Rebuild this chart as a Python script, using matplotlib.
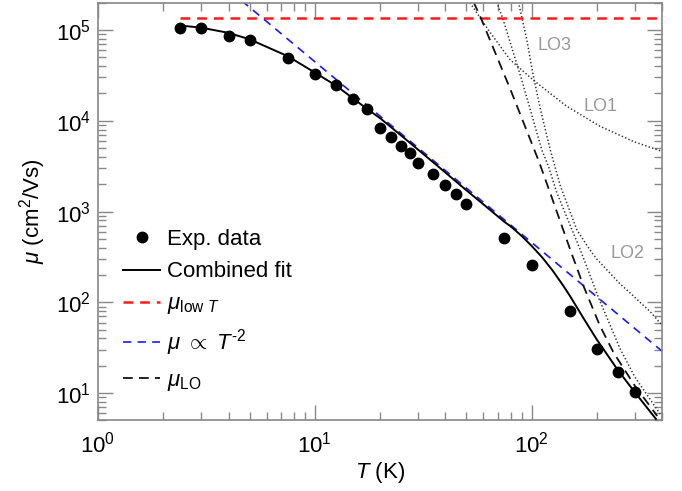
import matplotlib
matplotlib.use('Agg')
import matplotlib.pyplot as plt
from matplotlib.ticker import LogLocator, NullFormatter

plt.rcParams['font.family'] = ['Liberation Sans', 'DejaVu Sans']
plt.rcParams['mathtext.fontset'] = 'custom'
plt.rcParams['mathtext.rm'] = 'Liberation Sans'
plt.rcParams['mathtext.it'] = 'Liberation Sans:italic'
plt.rcParams['mathtext.bf'] = 'Liberation Sans:bold'
plt.rcParams['lines.scale_dashes'] = False

# experimental points
exp_T = [2.4, 3, 4, 5, 7.5, 10, 12.5, 15, 17.5, 20, 22.5, 25, 27.5, 30, 35, 40, 45, 50,
         75, 100, 150, 200, 250, 300]
exp_mu = [1.04e5, 1.04e5, 8.6e4, 7.7e4, 4.95e4, 3.3e4, 2.45e4, 1.75e4, 1.36e4, 8.4e3,
          6.6e3, 5.25e3, 4.4e3, 3.45e3, 2.6e3, 1.95e3, 1.58e3, 1.2e3,
          515, 258, 80, 31, 17.2, 10.2]

# combined fit
fit_T = [2.4, 3, 4, 5, 7.5, 10, 12.5, 15, 17.5, 20, 25, 30, 40, 50, 60, 75, 80, 90,
         100, 112, 125, 140, 150, 175, 200, 250, 300, 375]
fit_mu = [1.12e5, 1.06e5, 9.3e4, 7.9e4, 5.15e4, 3.4e4, 2.45e4, 1.77e4, 1.34e4, 1.07e4,
          6.9e3, 4.8e3, 2.7e3, 1.72e3, 1.2e3, 770, 690, 540,
          420, 313, 225, 153, 119, 65, 39, 18, 10.2, 5.2]

# low-T limit and T^-2 law
low_T = [2.4, 400]
low_mu = [1.34e5, 1.34e5]
pow_T = [4.6, 400]
pow_mu = [2.1e5, 29]

# LO phonon total and the three branches
lo_T = [54, 58.5, 80, 108, 122, 151, 174, 207, 239, 300, 365, 380]
lo_mu = [2.04e5, 1.34e5, 2.2e4, 3.6e3, 1.6e3, 378, 150, 55, 28, 12, 6.4, 5.6]

lo1_T = [52, 64.4, 79.7, 102, 145, 207, 296, 400]
lo1_mu = [2.0e5, 9.4e4, 4.7e4, 2.8e4, 1.45e4, 8.7e3, 5.9e3, 4.6e3]

lo2_T = [87, 95, 102, 110, 122, 136, 162, 186, 200, 256, 285, 320, 353, 400]
lo2_mu = [2.04e5, 7.9e4, 3.1e4, 1.33e4, 4.8e3, 1.9e3, 627, 378, 300, 160, 127, 98, 79, 56]

lo3_T = [69, 73.7, 90, 111.5, 120, 131, 168, 204, 256, 300, 392]
lo3_mu = [2.04e5, 1.34e5, 2.85e4, 4.8e3, 3.1e3, 1.6e3, 378, 112, 31, 15, 5.9]

fig = plt.figure(figsize=(6.82, 4.91), dpi=100)
ax = fig.add_axes([0.1437, 0.1436, 0.827, 0.851])

dot = (0, (1.0, 1.6))
for tt, mm in [(lo1_T, lo1_mu), (lo2_T, lo2_mu), (lo3_T, lo3_mu)]:
    ax.plot(tt, mm, color='#333333', lw=1.1, ls=dot)

ax.plot(exp_T, exp_mu, 'o', color='black', ms=7.5, label='Exp. data', zorder=5)
ax.plot(fit_T, fit_mu, '-', color='black', lw=1.4, label='Combined fit', zorder=4)
ax.plot(low_T, low_mu, color='#ff1a1a', lw=1.8, ls=(0, (7, 5)),
        label=r'$\mu_{\mathrm{low}\ T}$')
ax.plot(pow_T, pow_mu, color='#1a1aff', lw=1.2, ls=(0, (6, 4.5)),
        label=r'$\mu\ \propto\ T^{\text{-2}}$')
ax.plot(lo_T, lo_mu, color='#111111', lw=1.3, ls=(0, (7, 4.5)),
        label=r'$\mu_{\mathrm{LO}}$')

ax.text(127, 6.78e4, 'LO3', color='#999999', fontsize=13, ha='center', va='center')
ax.text(207, 1.45e4, 'LO1', color='#999999', fontsize=13, ha='center', va='center')
ax.text(278, 347, 'LO2', color='#999999', fontsize=13, ha='center', va='center')

ax.set_xscale('log')
ax.set_yscale('log')
ax.set_xlim(1, 400)
ax.set_ylim(5, 2e5)

ax.xaxis.set_major_locator(LogLocator(base=10, numticks=10))
ax.yaxis.set_major_locator(LogLocator(base=10, numticks=10))
ax.xaxis.set_minor_locator(LogLocator(base=10, subs=range(2, 10), numticks=20))
ax.yaxis.set_minor_locator(LogLocator(base=10, subs=range(2, 10), numticks=20))
ax.xaxis.set_minor_formatter(NullFormatter())
ax.yaxis.set_minor_formatter(NullFormatter())

for s in ax.spines.values():
    s.set_color('#888888')
    s.set_linewidth(1.2)
ax.tick_params(which='both', direction='in', top=True, right=True, color='#888888',
               labelsize=16)
ax.tick_params(which='major', length=11, width=1.0)
ax.tick_params(which='minor', length=6, width=1.0)
ax.tick_params(axis='x', pad=8)
ax.tick_params(axis='y', pad=5)

ax.set_xlabel(r'$T$ (K)', fontsize=16, labelpad=2)
ax.set_ylabel(r'$\mu$ (cm$^2$/Vs)', fontsize=16, labelpad=6)

ax.legend(loc='upper left', bbox_to_anchor=(0.028, 0.479), borderaxespad=0,
          frameon=False, fontsize=16, handlelength=1.7, handletextpad=0.3,
          labelspacing=0.5, numpoints=1)

fig.savefig('out.png', dpi=100)
